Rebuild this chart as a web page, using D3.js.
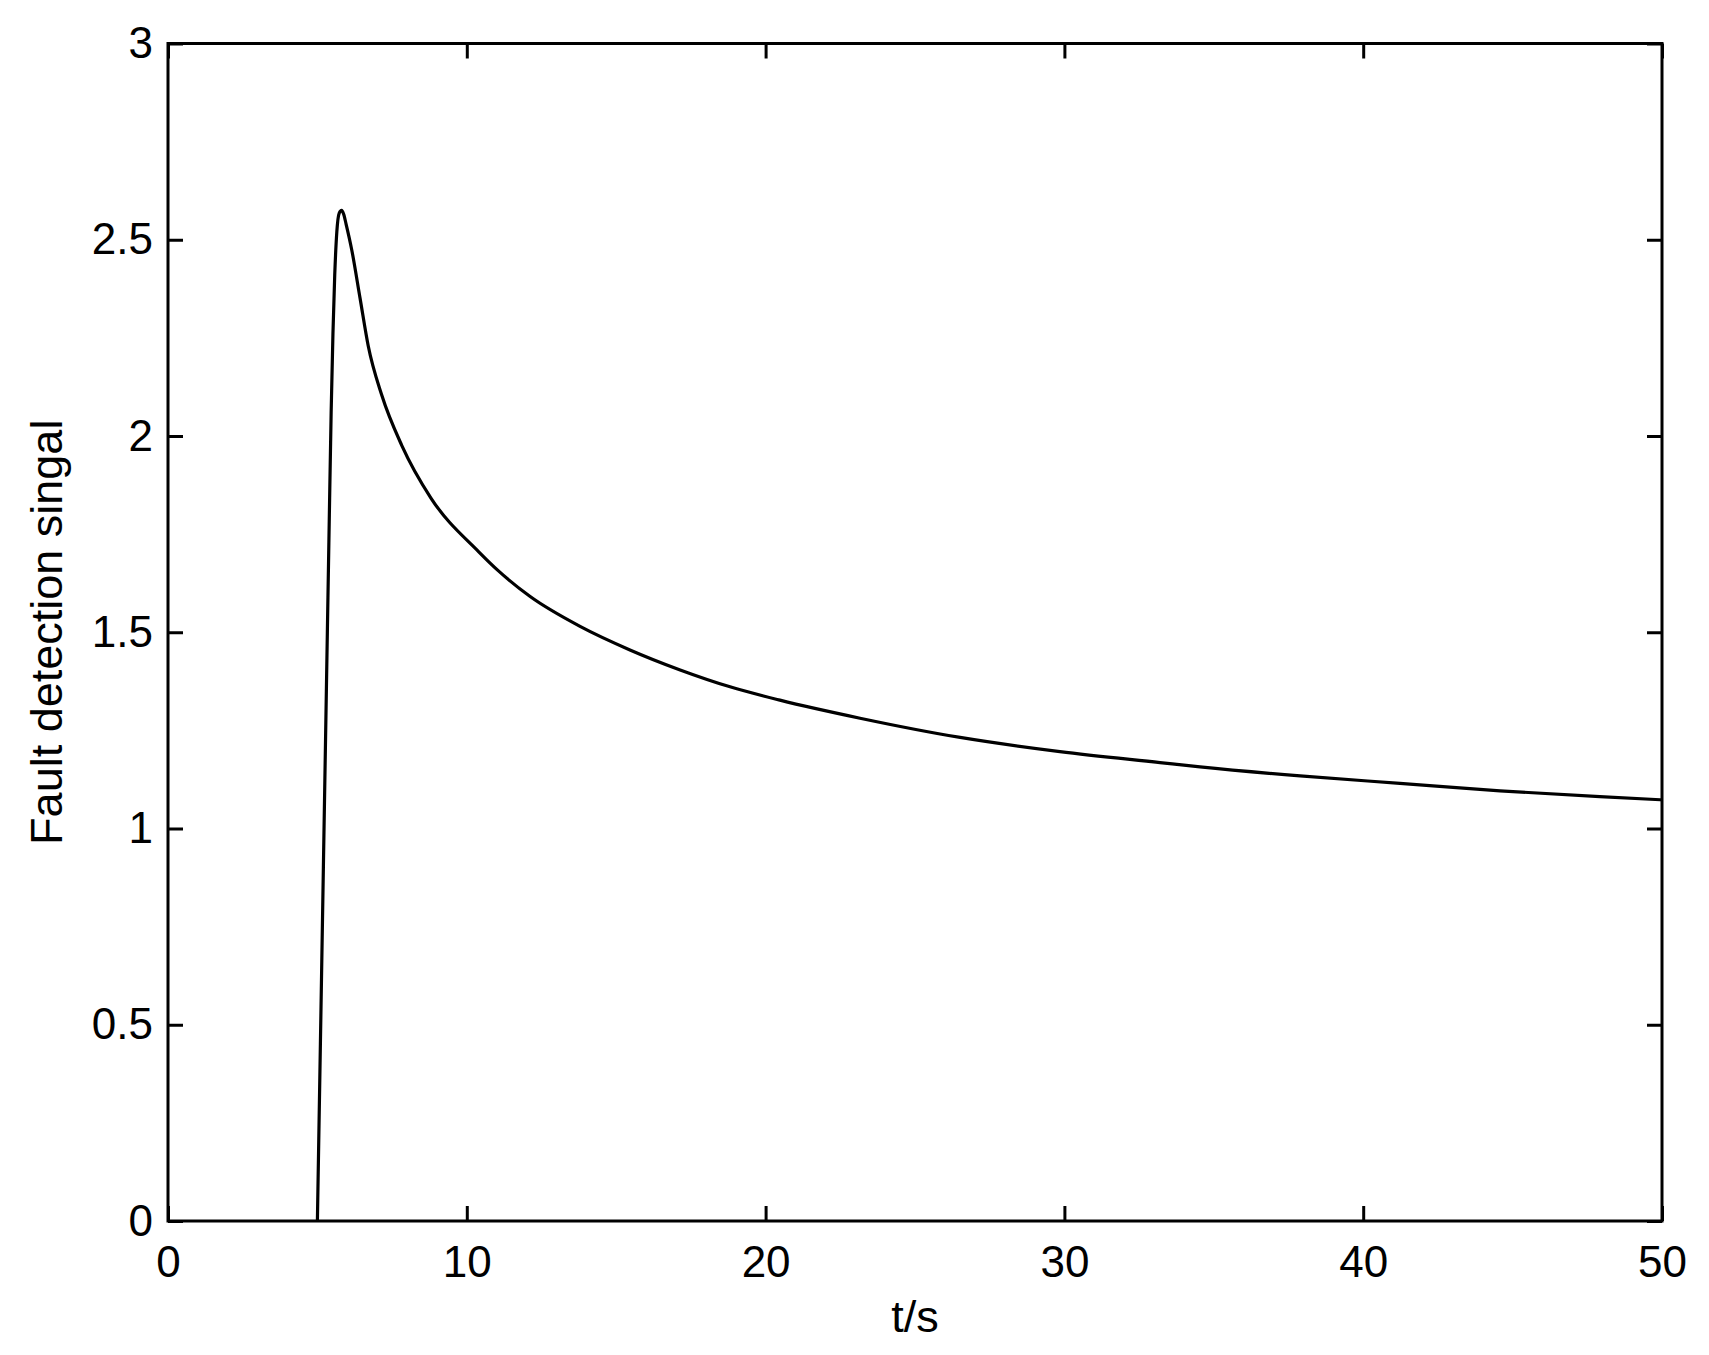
<!DOCTYPE html>
<html>
<head>
<meta charset="utf-8">
<script src="https://cdn.jsdelivr.net/npm/d3@7"></script>
<style>
  body { margin: 0; background: #fff; }
  svg { display: block; }
  text { font-family: "Liberation Sans", Arial, sans-serif; }
</style>
</head>
<body>
<script>
var width = 1709,
    height = 1355;

var margin = { left: 168, right: 47, top: 43.5, bottom: 134 };

// detection signal
var tValues = [5.0, 5.1, 5.2, 5.3, 5.4, 5.46, 5.52, 5.58, 5.65, 5.73, 5.81,
  5.88, 5.96, 6.15, 6.43, 6.7, 7.15, 7.83, 8.8, 10.4, 11.05, 12.12, 13.79, 15.46,
  17.14, 18.81, 20.48, 23.16, 26.51, 29.85, 33.2, 34.54, 37.89, 41.23, 44.58, 47.92, 50.0];
var signal = [0, 0.45, 0.9, 1.35, 1.8, 2.06, 2.26, 2.41, 2.52, 2.568, 2.575,
  2.565, 2.54, 2.474, 2.35, 2.23, 2.105, 1.975, 1.842, 1.705, 1.657, 1.591, 1.515, 1.455,
  1.404, 1.361, 1.327, 1.281, 1.232, 1.196, 1.168, 1.157, 1.134, 1.115, 1.096, 1.081, 1.073];

var xTicks = [0, 10, 20, 30, 40, 50];
var yTicks = [0, 0.5, 1, 1.5, 2, 2.5, 3];

var data = tValues.map(function(t, i) { return { t: t, v: signal[i] }; });

var svg = d3.select('body').append('svg')
  .attr('width', width)
  .attr('height', height);

var x = d3.scaleLinear().domain([0, 50]).range([margin.left, width - margin.right]);
var y = d3.scaleLinear().domain([0, 3]).range([height - margin.bottom, margin.top]);

var tickLen = 15;

// bottom axis with labels, ticks pointing in
svg.append('g')
  .attr('transform', 'translate(0,' + y(0) + ')')
  .call(d3.axisBottom(x).tickValues(xTicks).tickSizeInner(-tickLen).tickSizeOuter(0).tickPadding(25).tickFormat(d3.format('d')))
  .call(function(g) { g.select('.domain').remove(); });

// left axis
svg.append('g')
  .attr('transform', 'translate(' + x(0) + ',0)')
  .call(d3.axisLeft(y).tickValues(yTicks).tickSizeInner(-tickLen).tickSizeOuter(0).tickPadding(15).tickFormat(function(d) { return String(d); }))
  .call(function(g) { g.select('.domain').remove(); });

// mirrored ticks on top and right
svg.append('g')
  .attr('transform', 'translate(0,' + y(3) + ')')
  .call(d3.axisTop(x).tickValues(xTicks).tickSizeInner(-tickLen).tickSizeOuter(0).tickFormat(''))
  .call(function(g) { g.select('.domain').remove(); });

svg.append('g')
  .attr('transform', 'translate(' + x(50) + ',0)')
  .call(d3.axisRight(y).tickValues(yTicks).tickSizeInner(-tickLen).tickSizeOuter(0).tickFormat(''))
  .call(function(g) { g.select('.domain').remove(); });

svg.selectAll('.tick line')
  .attr('stroke', '#000')
  .attr('stroke-width', 3);

svg.selectAll('.tick text')
  .attr('fill', '#000')
  .attr('font-size', '44px')
  .attr('font-family', '"Liberation Sans", Arial, sans-serif');

// box
svg.append('rect')
  .attr('x', x(0))
  .attr('y', y(3))
  .attr('width', x(50) - x(0))
  .attr('height', y(0) - y(3))
  .attr('fill', 'none')
  .attr('stroke', '#000')
  .attr('stroke-width', 3);

var line = d3.line()
  .x(function(d) { return x(d.t); })
  .y(function(d) { return y(d.v); })
  .curve(d3.curveMonotoneX);

svg.append('path')
  .datum(data)
  .attr('d', line)
  .attr('fill', 'none')
  .attr('stroke', '#000')
  .attr('stroke-width', 3.2)
  .attr('stroke-linejoin', 'round');

svg.append('text')
  .attr('x', (x(0) + x(50)) / 2)
  .attr('y', 1332)
  .attr('text-anchor', 'middle')
  .attr('font-size', '45px')
  .text('t/s');

svg.append('text')
  .attr('transform', 'rotate(-90)')
  .attr('x', -(y(0) + y(3)) / 2)
  .attr('y', 62)
  .attr('text-anchor', 'middle')
  .attr('font-size', '45px')
  .text('Fault detection singal');
</script>
</body>
</html>
